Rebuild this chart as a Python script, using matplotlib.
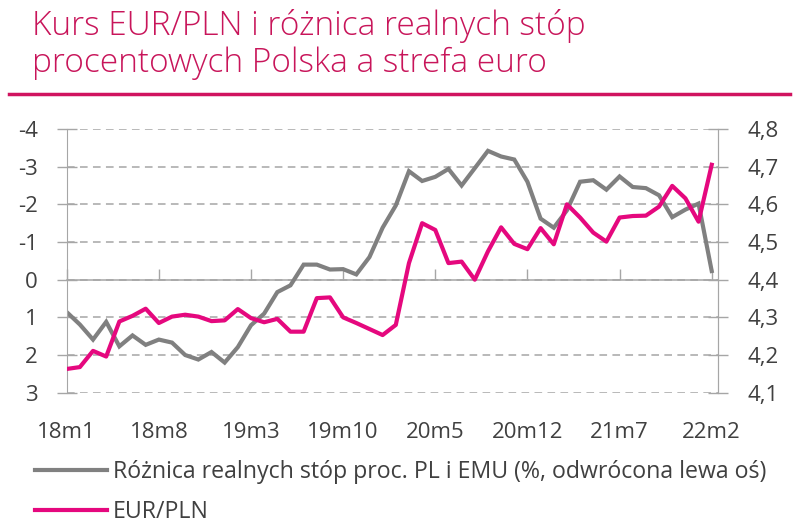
import matplotlib
import matplotlib.pyplot as plt
from matplotlib.ticker import FuncFormatter

plt.rcParams['font.family'] = ['Open Sans', 'DejaVu Sans']
plt.rcParams['axes.unicode_minus'] = False

# miesiące 18m1 .. 22m2 (50 obserwacji)
months = []
for y in range(18, 23):
    for m in range(1, 13):
        months.append('%dm%d' % (y, m))
months = months[:50]

# różnica realnych stóp proc. PL i EMU (%)
rate_diff = [0.86, 1.19, 1.59, 1.12, 1.77, 1.48, 1.73, 1.59, 1.67, 2.00,
             2.12, 1.92, 2.20, 1.79, 1.21, 0.90, 0.33, 0.15, -0.40, -0.40,
             -0.27, -0.28, -0.14, -0.60, -1.38, -1.97, -2.88, -2.62, -2.73, -2.94,
             -2.50, -2.96, -3.42, -3.27, -3.19, -2.60, -1.62, -1.38, -1.84, -2.60,
             -2.64, -2.39, -2.74, -2.46, -2.43, -2.24, -1.66, -1.86, -2.02, -0.23]

# kurs EUR/PLN
eurpln = [4.163, 4.168, 4.211, 4.196, 4.289, 4.304, 4.323, 4.285, 4.302, 4.307,
          4.302, 4.290, 4.292, 4.322, 4.298, 4.287, 4.296, 4.262, 4.262, 4.351,
          4.353, 4.300, 4.285, 4.269, 4.253, 4.280, 4.444, 4.550, 4.532, 4.444,
          4.448, 4.400, 4.475, 4.539, 4.495, 4.481, 4.537, 4.494, 4.600, 4.565,
          4.525, 4.501, 4.565, 4.569, 4.570, 4.594, 4.649, 4.616, 4.554, 4.705]

left_ticks = [-4, -3, -2, -1, 0, 1, 2, 3]
right_ticks = [4.1, 4.2, 4.3, 4.4, 4.5, 4.6, 4.7, 4.8]
label_idx = list(range(0, 50, 7))

gray = '#808080'
pink = '#E5087E'
axcol = '#A6A6A6'
txt = '#404040'

fig = plt.figure(figsize=(8, 5.28), dpi=100)
fig.patch.set_facecolor('white')

# tytuł i różowa linia pod nim
fig.text(32/800, 1-35/528, 'Kurs EUR/PLN i różnica realnych stóp', color='#C8155A',
         fontsize=24, fontweight='light', va='baseline', ha='left')
fig.text(32/800, 1-72/528, 'procentowych Polska a strefa euro', color='#C8155A',
         fontsize=24, fontweight='light', va='baseline', ha='left')
fig.add_artist(plt.Line2D([9/800, 790/800], [1-94/528, 1-94/528],
                          transform=fig.transFigure, color='#D0145F', lw=2.5))

ax = fig.add_axes([66.7/800, 1-392.7/528, (718.3-66.7)/800, (392.7-129)/528])
x = list(range(len(months)))
l1, = ax.plot(x, rate_diff, color=gray, lw=3, solid_joinstyle='miter',
              label='Różnica realnych stóp proc. PL i EMU (%, odwrócona lewa oś)')
ax.set_xlim(0, 49.5)
ax.set_ylim(3, -4)
ax.set_yticks(left_ticks)
ax.yaxis.grid(True, color=axcol, ls=(0, (5, 3.5)), lw=1.1)
ax.set_axisbelow(True)
for s in ['top', 'bottom']:
    ax.spines[s].set_visible(False)
ax.spines['left'].set_color(axcol)
ax.spines['right'].set_color(axcol)
ax.tick_params(axis='y', direction='inout', length=14, width=1, color=axcol,
               labelsize=16, labelcolor=txt, pad=14)
ax.set_xticks(label_idx)
ax.set_xticklabels([months[i] for i in label_idx])
ax.tick_params(axis='x', length=0, labelsize=16, labelcolor=txt, pad=21)

# oś pozioma przechodząca przez zero
sec = ax.secondary_xaxis(3/7)
sec.set_xticks(label_idx)
sec.tick_params(axis='x', direction='in', length=8, width=1, color=axcol,
                labelbottom=False, labeltop=False)
sec.spines['bottom'].set_color(axcol)
sec.spines['bottom'].set_linewidth(1.1)

ax2 = ax.twinx()
l2, = ax2.plot(x, eurpln, color=pink, lw=3, label='EUR/PLN')
ax2.set_ylim(4.1, 4.8)
ax2.set_yticks(right_ticks)
ax2.yaxis.set_major_formatter(FuncFormatter(lambda v, p: ('%.1f' % v).replace('.', ',')))
for s in ['top', 'bottom', 'left']:
    ax2.spines[s].set_visible(False)
ax2.spines['right'].set_color(axcol)
ax2.tick_params(axis='y', direction='inout', length=14, width=1, color=axcol,
                labelsize=16, labelcolor=txt, pad=14)

fig.legend(handles=[l1, l2], loc='upper left', bbox_to_anchor=(35/800, 1-460/528),
           frameon=False, fontsize=16.7, handlelength=3.1, handletextpad=0.25,
           labelspacing=0.7, borderpad=0, borderaxespad=0, labelcolor=txt)

fig.savefig('out.png', dpi=100)
